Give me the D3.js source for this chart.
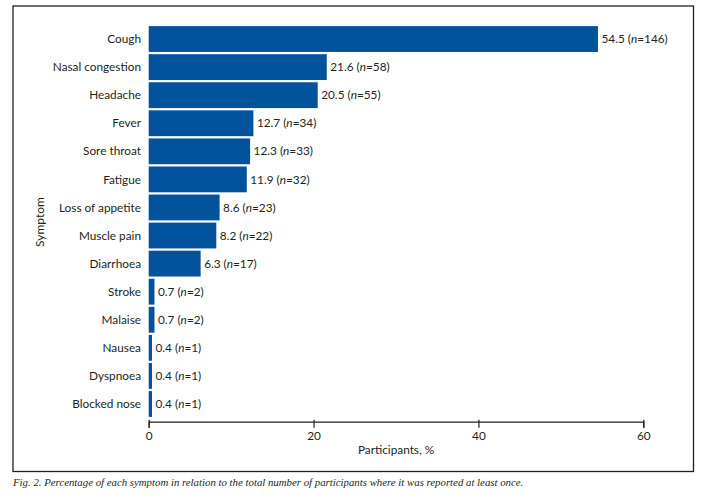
<!DOCTYPE html>
<html>
<head>
<meta charset="utf-8">
<script src="https://cdn.jsdelivr.net/npm/d3@7"></script>
<style>
  body { margin: 0; background: #fff; }
  svg text { font-family: Lato, "Open Sans", sans-serif; fill: #231f20; }
</style>
</head>
<body>
<svg id="chart" width="704" height="502"></svg>
<script>
// symptoms, top to bottom
const symptoms = ['Cough', 'Nasal congestion', 'Headache', 'Fever', 'Sore throat', 'Fatigue',
  'Loss of appetite', 'Muscle pain', 'Diarrhoea', 'Stroke', 'Malaise', 'Nausea', 'Dyspnoea', 'Blocked nose'];
const percents = [54.5, 21.6, 20.5, 12.7, 12.3, 11.9, 8.6, 8.2, 6.3, 0.7, 0.7, 0.4, 0.4, 0.4];
const counts = [146, 58, 55, 34, 33, 32, 23, 22, 17, 2, 2, 1, 1, 1];
const xTicks = [0, 20, 40, 60];

const svg = d3.select('#chart');

// outer frame
svg.append('rect')
  .attr('x', 13).attr('y', 6)
  .attr('width', 680.5).attr('height', 465.5)
  .attr('fill', 'none')
  .attr('stroke', '#231f20')
  .attr('stroke-width', 1.3);

const x = d3.scaleLinear().domain([0, 60]).range([148.7, 643.3]);
const y = d3.scaleBand().domain(symptoms).range([25, 418]).paddingInner(0.08).paddingOuter(0.04);

const rows = symptoms.map((s, i) => ({ name: s, pct: percents[i], n: counts[i] }));

svg.append('g')
  .selectAll('rect')
  .data(rows)
  .join('rect')
  .attr('x', x(0))
  .attr('y', d => y(d.name))
  .attr('width', d => x(d.pct) - x(0))
  .attr('height', y.bandwidth())
  .attr('fill', '#02529c');

// category labels
svg.append('g')
  .selectAll('text')
  .data(rows)
  .join('text')
  .attr('x', 141)
  .attr('y', d => y(d.name) + y.bandwidth() / 2)
  .attr('dy', '0.35em')
  .attr('text-anchor', 'end')
  .attr('font-size', 11.8)
  .text(d => d.name);

// value labels
const vals = svg.append('g')
  .selectAll('text')
  .data(rows)
  .join('text')
  .attr('x', d => x(d.pct) + 3.5)
  .attr('y', d => y(d.name) + y.bandwidth() / 2)
  .attr('dy', '0.35em')
  .attr('font-size', 11.8);
vals.append('tspan').text(d => d.pct.toFixed(1) + ' (');
vals.append('tspan').attr('font-style', 'italic').text('n');
vals.append('tspan').text(d => '=' + d.n + ')');

// x axis
const xAxis = svg.append('g')
  .attr('transform', 'translate(0,421.7)')
  .call(d3.axisBottom(x).tickValues(xTicks).tickSize(6).tickPadding(4));
xAxis.select('.domain').attr('stroke', '#231f20').attr('stroke-width', 1.3);
xAxis.selectAll('.tick line').attr('stroke', '#231f20').attr('stroke-width', 1.2).attr('y1', -2);
xAxis.selectAll('.tick text')
  .attr('font-family', 'Lato, sans-serif')
  .attr('font-size', 11.8)
  .attr('fill', '#231f20');

svg.append('text')
  .attr('x', (x(0) + x(60)) / 2)
  .attr('y', 454)
  .attr('text-anchor', 'middle')
  .attr('font-size', 11.8)
  .text('Participants, %');

svg.append('text')
  .attr('transform', 'translate(44,222) rotate(-90)')
  .attr('text-anchor', 'middle')
  .attr('font-size', 12)
  .text('Symptom');

// caption
svg.append('text')
  .attr('x', 13)
  .attr('y', 486)
  .attr('font-size', 10.8)
  .attr('font-style', 'italic')
  .style('font-family', '"Liberation Serif", serif')
  .text('Fig. 2. Percentage of each symptom in relation to the total number of participants where it was reported at least once.');
</script>
</body>
</html>
